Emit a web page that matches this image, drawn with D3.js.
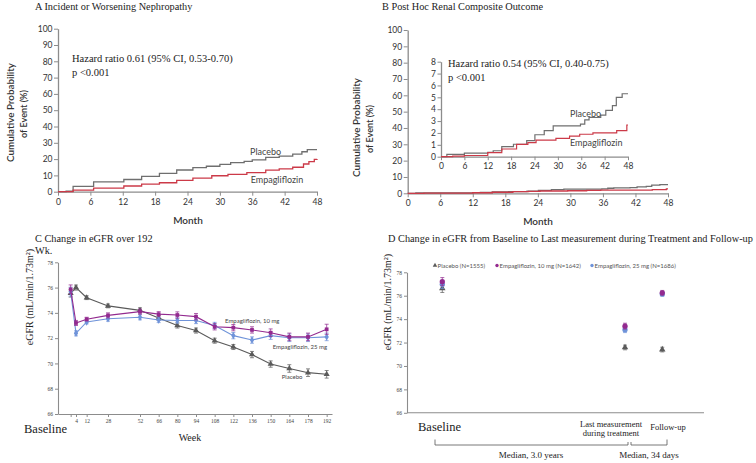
<!DOCTYPE html>
<html><head><meta charset="utf-8">
<script src="https://cdn.jsdelivr.net/npm/d3@7"></script>
<style>body{margin:0;background:#fff}svg{display:block}</style>
</head><body>
<svg id="c" width="756" height="463"></svg>
<script>
// ---------- DATA ----------
const monthTicks = [0, 6, 12, 18, 24, 30, 36, 42, 48];
const probTicks = [0, 10, 20, 30, 40, 50, 60, 70, 80, 90, 100];
const insetTicks = [0, 1, 2, 3, 4, 5, 6, 7, 8];

// Panel A: incident or worsening nephropathy (Kaplan-Meier steps)
const nephPlaceboMonths = [0, 1.5, 2.8, 6.6, 12.2, 15.5, 18.8, 22.0, 25.0, 27.5, 30.0, 32.0, 34.5, 36.0, 38.5, 41.0, 43.5, 45.2, 46.2, 48];
const nephPlaceboValues = [0, 0.4, 3.3, 6.0, 7.5, 9.4, 11.2, 13.3, 14.8, 15.6, 16.8, 17.8, 18.6, 19.5, 21.0, 21.8, 23.0, 24.5, 25.8, 25.8];
const nephEmpaMonths = [0, 2.8, 6.6, 12.2, 15.5, 18.8, 22.0, 25.0, 28.5, 31.5, 35.0, 38.5, 41.0, 43.5, 45.5, 46.5, 47.5, 48];
const nephEmpaValues = [0, 1.0, 2.2, 3.5, 4.6, 5.5, 6.9, 8.3, 9.8, 10.6, 11.7, 13.2, 14.0, 15.0, 17.0, 18.4, 19.8, 20.0];

// Panel B: post hoc renal composite outcome
const renalPlaceboMonths = [0, 1.5, 6, 12, 13.4, 15.6, 18.6, 22, 24.1, 26.5, 28.8, 35.8, 36.9, 38, 41, 42.3, 44, 45, 46.5, 48];
const renalPlaceboValues = [0, 0.2, 0.3, 0.37, 0.5, 0.85, 1.05, 1.35, 1.85, 2.2, 2.6, 2.75, 3.1, 3.3, 3.5, 3.9, 4.3, 5.0, 5.3, 5.3];
const renalEmpaMonths = [0, 3, 6, 12, 15.6, 19.4, 22.3, 24.4, 29.5, 33, 35.6, 39, 45.1, 47.7, 48];
const renalEmpaValues = [0, 0.05, 0.1, 0.34, 0.65, 1.04, 1.18, 1.4, 1.55, 1.74, 1.89, 2.0, 2.2, 2.67, 2.67];

// Panel C: eGFR over 192 weeks
const cWeeks = [0, 4, 12, 28, 52, 66, 80, 94, 108, 122, 136, 150, 164, 178, 192];
const cWeekTicks = [0, 4, 12, 28, 52, 66, 80, 94, 108, 122, 136, 150, 164, 178, 192];
const egfrTicks = [66, 68, 70, 72, 74, 76, 78];
const cPlacebo = [75.55, 76.0, 75.2, 74.55, 74.2, 73.6, 73.0, 72.6, 71.8, 71.3, 70.7, 69.95, 69.6, 69.27, 69.14];
const cPlaceboErr = [0.3, 0.2, 0.15, 0.15, 0.2, 0.2, 0.2, 0.2, 0.2, 0.2, 0.25, 0.25, 0.3, 0.3, 0.3];
const cEmpa10 = [75.86, 73.2, 73.5, 73.8, 74.1, 73.9, 73.83, 73.7, 72.9, 72.83, 72.65, 72.43, 72.1, 72.1, 72.7];
const cEmpa10Err = [0.35, 0.2, 0.15, 0.2, 0.2, 0.2, 0.25, 0.25, 0.25, 0.25, 0.25, 0.3, 0.3, 0.3, 0.4];
const cEmpa25 = [75.68, 72.38, 73.28, 73.54, 73.65, 73.43, 73.4, 73.4, 73.0, 72.2, 71.85, 72.2, 72.03, 72.03, 72.1];
const cEmpa25Err = [0.35, 0.2, 0.15, 0.2, 0.2, 0.2, 0.2, 0.25, 0.25, 0.25, 0.25, 0.3, 0.3, 0.3, 0.3];

// Panel D: baseline, last measurement on treatment, follow-up
const dPhases = ["Baseline", "Last measurement during treatment", "Follow-up"];
const dPlacebo = [76.63, 71.58, 71.4];
const dPlaceboErr = [0.35, 0.2, 0.2];
const dEmpa10 = [77.2, 73.4, 76.25];
const dEmpa10Err = [0.35, 0.25, 0.2];
const dEmpa25 = [76.97, 73.1, 76.15];
const dEmpa25Err = [0.35, 0.25, 0.2];
const dLegend = ["Placebo (N=1555)", "Empagliflozin, 10 mg (N=1642)", "Empagliflozin, 25 mg (N=1686)"];

// ---------- DRAWING ----------
const svg = d3.select("#c");
const SERIF = "'Liberation Serif','Times New Roman',serif";
const SANS = "Lato,'Open Sans',sans-serif";
const AX = "#8c8c8c";
const GRAY = "#6f6f6f", RED = "#cc3a48";
const PGRAY = "#5a5a5a", PURPLE = "#932a8f", BLUE = "#6f93d9";

function text(x, y, s, o = {}) {
  const t = svg.append("text").attr("x", x).attr("y", y).text(s)
    .attr("font-family", o.family || SERIF).attr("font-size", o.size || 10.3)
    .attr("fill", o.fill || "#222");
  if (o.anchor) t.attr("text-anchor", o.anchor);
  if (o.weight) t.attr("font-weight", o.weight);
  if (o.rotate) t.attr("transform", `rotate(-90,${x},${y})`);
  if (o.len) t.attr("textLength", o.len).attr("lengthAdjust", "spacingAndGlyphs");
  return t;
}
function styleAxis(g, o) {
  g.select("path.domain").attr("stroke", o.color || AX).attr("stroke-width", o.sw || 1.3);
  g.selectAll(".tick line").attr("stroke", o.color || AX).attr("stroke-width", o.tw || 1);
  g.selectAll(".tick text").attr("fill", o.fill || "#333").attr("font-size", o.size)
    .attr("font-family", o.family || SANS);
}
function stepLine(xs, ys, months, values, color, w) {
  const pts = months.map((m, i) => [m, values[i]]);
  svg.append("path").datum(pts)
    .attr("d", d3.line().x(d => xs(d[0])).y(d => ys(d[1])).curve(d3.curveStepAfter))
    .attr("fill", "none").attr("stroke", color).attr("stroke-width", w);
}

// ===== Panel A =====
text(35, 10, "A Incident or Worsening Nephropathy");
const xA = d3.scaleLinear([0, 48], [58, 317]);
const yA = d3.scaleLinear([0, 100], [191.7, 28.7]);
styleAxis(svg.append("g").attr("transform", "translate(0,191.7)")
  .call(d3.axisBottom(xA).tickValues(monthTicks).tickSize(4).tickSizeOuter(0).tickPadding(3)), { size: 8.5 });
styleAxis(svg.append("g").attr("transform", "translate(58,0)")
  .call(d3.axisLeft(yA).tickValues(probTicks).tickSize(4).tickSizeOuter(0).tickPadding(1.5)), { size: 8.5 });
stepLine(xA, yA, nephPlaceboMonths, nephPlaceboValues, GRAY, 1.3);
stepLine(xA, yA, nephEmpaMonths, nephEmpaValues, RED, 1.3);
text(13.5, 112.5, "Cumulative Probability", { family: SANS, size: 10, weight: 600, anchor: "middle", rotate: true, fill: "#333", len: 99 });
text(27, 114, "of Event (%)", { family: SANS, size: 10, weight: 600, anchor: "middle", rotate: true, fill: "#333", len: 48 });
text(188, 224, "Month", { family: SANS, size: 10, weight: 600, anchor: "middle", fill: "#333" });
text(72, 62, "Hazard ratio 0.61 (95% CI, 0.53-0.70)", { size: 10.5 });
text(72, 76, "p <0.001", { size: 10.5 });
text(250, 155, "Placebo", { family: SANS, size: 9, fill: "#444" });
text(250.7, 182.5, "Empagliflozin", { family: SANS, size: 9, fill: "#444" });

// ===== Panel B =====
text(382, 10, "B Post Hoc Renal Composite Outcome");
const xB = d3.scaleLinear([0, 48], [407.7, 668]);
const yB = d3.scaleLinear([0, 100], [193.3, 30]);
styleAxis(svg.append("g").attr("transform", "translate(0,193.3)")
  .call(d3.axisBottom(xB).tickValues(monthTicks).tickSize(4).tickSizeOuter(0).tickPadding(3)), { size: 8.5 });
styleAxis(svg.append("g").attr("transform", "translate(407.7,0)")
  .call(d3.axisLeft(yB).tickValues(probTicks).tickSize(4).tickSizeOuter(0).tickPadding(1.5)), { size: 8.5 });
stepLine(xB, yB, renalPlaceboMonths, renalPlaceboValues, GRAY, 1.3);
stepLine(xB, yB, renalEmpaMonths, renalEmpaValues, RED, 1.3);
text(360, 127.5, "Cumulative Probability", { family: SANS, size: 10, weight: 600, anchor: "middle", rotate: true, fill: "#333", len: 99 });
text(373, 129, "of Event (%)", { family: SANS, size: 10, weight: 600, anchor: "middle", rotate: true, fill: "#333", len: 48 });
text(538, 224.5, "Month", { family: SANS, size: 10, weight: 600, anchor: "middle", fill: "#333" });
// inset
const xI = d3.scaleLinear([0, 48], [441, 628]);
const yI = d3.scaleLinear([0, 8], [156.7, 61.7]);
styleAxis(svg.append("g").attr("transform", "translate(0,156.7)")
  .call(d3.axisBottom(xI).tickValues(monthTicks).tickSize(3.5).tickSizeOuter(0).tickPadding(2.5)), { size: 8.5 });
styleAxis(svg.append("g").attr("transform", "translate(441,0)")
  .call(d3.axisLeft(yI).tickValues(insetTicks).tickSize(3.5).tickSizeOuter(0).tickPadding(1.5)), { size: 8.5 });
stepLine(xI, yI, renalPlaceboMonths, renalPlaceboValues, GRAY, 1.2);
stepLine(xI, yI, renalEmpaMonths, renalEmpaValues, RED, 1.2);
text(448, 67, "Hazard ratio 0.54 (95% CI, 0.40-0.75)", { size: 10.5 });
text(448, 81, "p <0.001", { size: 10.5 });
text(570, 116.5, "Placebo", { family: SANS, size: 9, fill: "#444" });
text(570, 145.5, "Empagliflozin", { family: SANS, size: 9, fill: "#444" });

// ===== Panel C =====
text(35, 241.5, "C Change in eGFR over 192");
text(35, 254, "Wk.");
const xC = d3.scaleLinear([-9.5, 196], [58, 332]);
const yC = d3.scaleLinear([66, 78], [414, 262.3]);
const gxC = svg.append("g").attr("transform", "translate(0,414)")
  .call(d3.axisBottom(xC).tickValues(cWeekTicks).tickFormat(d => d === 0 ? "" : d).tickSize(3).tickSizeOuter(0).tickPadding(2));
styleAxis(gxC, { size: 5.5, family: SERIF, fill: "#444", sw: 1.1 });
const gyC = svg.append("g").attr("transform", "translate(58,0)")
  .call(d3.axisLeft(yC).tickValues(egfrTicks).tickSize(3).tickSizeOuter(0).tickPadding(2));
styleAxis(gyC, { size: 5.5, family: SERIF, fill: "#444", sw: 1.1 });
text(33, 297, "eGFR (mL/min/1.73m²)", { size: 10, anchor: "middle", rotate: true });
text(190, 441, "Week", { size: 10, anchor: "middle" });
text(24, 433, "Baseline", { size: 12.5 });

function series(xs, ys, xv, yv, ev, color, sym, size, lineOn) {
  const pts = xv.map((x, i) => ({ x, y: yv[i], e: ev[i] }));
  if (lineOn) svg.append("path").datum(pts)
    .attr("d", d3.line().x(d => xs(d.x)).y(d => ys(d.y)))
    .attr("fill", "none").attr("stroke", color).attr("stroke-width", 1.1);
  const g = svg.append("g");
  pts.forEach(d => {
    const cx = xs(d.x), y1 = ys(d.y + d.e), y2 = ys(d.y - d.e);
    g.append("path").attr("d", `M${cx},${y1}V${y2}M${cx - 2},${y1}H${cx + 2}M${cx - 2},${y2}H${cx + 2}`)
      .attr("stroke", color).attr("stroke-width", 0.8).attr("fill", "none").attr("opacity", 0.9);
    g.append("path").attr("d", d3.symbol(sym, size)())
      .attr("transform", `translate(${cx},${ys(d.y)})`).attr("fill", color);
  });
}
series(xC, yC, cWeeks, cPlacebo, cPlaceboErr, PGRAY, d3.symbolTriangle, 16, true);
series(xC, yC, cWeeks, cEmpa25, cEmpa25Err, BLUE, d3.symbolDiamond, 16, true);
series(xC, yC, cWeeks, cEmpa10, cEmpa10Err, PURPLE, d3.symbolSquare, 14, true);
text(225, 322.5, "Empagliflozin, 10 mg", { family: SANS, size: 6, fill: "#444" });
text(272.7, 348.5, "Empagliflozin, 25 mg", { family: SANS, size: 6, fill: "#444" });
text(281.7, 378.5, "Placebo", { family: SANS, size: 6, fill: "#444" });

// ===== Panel D =====
text(388, 242, "D Change in eGFR from Baseline to Last measurement during Treatment and Follow-up");
const phasePos = [0, 1, 1.204];
const xD = d3.scaleLinear([0, 1], [442.3, 625]);
const yD = d3.scaleLinear([66, 78], [412.8, 272.3]);
const gyD = svg.append("g").attr("transform", "translate(407,0)")
  .call(d3.axisLeft(yD).tickValues(egfrTicks).tickSize(3).tickSizeOuter(0).tickPadding(2));
styleAxis(gyD, { size: 5.5, family: SERIF, fill: "#444", sw: 1.1 });
svg.append("line").attr("x1", 407).attr("x2", 704).attr("y1", yD(66)).attr("y2", yD(66))
  .attr("stroke", AX).attr("stroke-width", 1.1);
text(391, 302, "eGFR (mL/min/1.73m²)", { size: 10, anchor: "middle", rotate: true });
series(xD, yD, phasePos, dPlacebo, dPlaceboErr, PGRAY, d3.symbolTriangle, 18, false);
series(xD, yD, phasePos, dEmpa25, dEmpa25Err, BLUE, d3.symbolCircle, 22, false);
series(xD, yD, phasePos, dEmpa10, dEmpa10Err, PURPLE, d3.symbolCircle, 22, false);
// legend
const legSyms = [d3.symbolTriangle, d3.symbolCircle, d3.symbolCircle];
const legCols = [PGRAY, PURPLE, BLUE];
const legX = [435, 497, 592];
dLegend.forEach((s, i) => {
  svg.append("path").attr("d", d3.symbol(legSyms[i], 9)()).attr("transform", `translate(${legX[i]},265.5)`).attr("fill", legCols[i]);
  text(legX[i] + 2.6, 267.7, s, { family: SANS, size: 6, fill: "#555" });
});
// phase labels
text(418, 431, dPhases[0], { size: 12.5 });
text(611, 426.5, "Last measurement", { size: 8.5, anchor: "middle" });
text(611, 436, "during treatment", { size: 8.5, anchor: "middle" });
text(668, 429.5, dPhases[2], { size: 8.5, anchor: "middle" });
svg.append("path").attr("d", "M435,439.5V445H628V442M631,442V445H667V439.5")
  .attr("fill", "none").attr("stroke", "#555").attr("stroke-width", 0.8);
text(531, 458, "Median, 3.0 years", { size: 9, anchor: "middle" });
text(649, 458, "Median, 34 days", { size: 9, anchor: "middle" });
</script>
</body></html>
